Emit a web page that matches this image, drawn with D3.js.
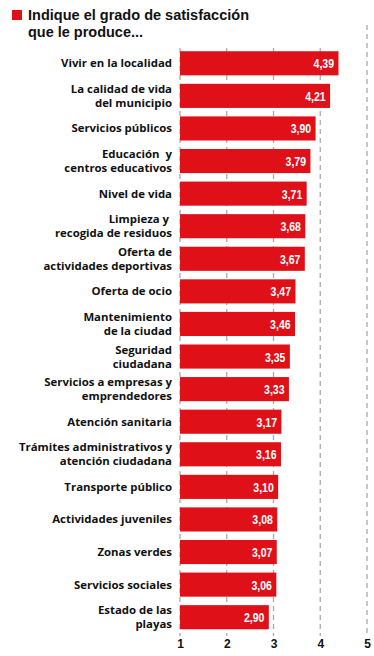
<!DOCTYPE html>
<html><head><meta charset="utf-8">
<script src="https://cdn.jsdelivr.net/npm/d3@7"></script>
<style>
body{margin:0;background:#fff;}
</style></head>
<body><svg id="c" width="374" height="656"></svg>
<script>
const categories = [
  ["Vivir en la localidad"],
  ["La calidad de vida","del municipio"],
  ["Servicios públicos"],
  ["Educación  y","centros educativos"],
  ["Nivel de vida"],
  ["Limpieza y ","recogida de residuos"],
  ["Oferta de","actividades deportivas"],
  ["Oferta de ocio"],
  ["Mantenimiento","de la ciudad"],
  ["Seguridad","ciudadana"],
  ["Servicios a empresas y","emprendedores"],
  ["Atención sanitaria"],
  ["Trámites administrativos y","atención ciudadana"],
  ["Transporte público"],
  ["Actividades juveniles"],
  ["Zonas verdes"],
  ["Servicios sociales"],
  ["Estado de las","playas"]
];
const values = [4.39,4.21,3.90,3.79,3.71,3.68,3.67,3.47,3.46,3.35,3.33,3.17,3.16,3.10,3.08,3.07,3.06,2.90];
const tickValues = [1,2,3,4,5];
const title = ["Indique el grado de satisfacción","que le produce..."];
const titleWidths = [221,115];

const svg = d3.select("#c");
const x = d3.scaleLinear().domain([1,5]).range([180,367]);
const y = d3.scaleBand().domain(d3.range(values.length)).range([47,633.5]).paddingInner(0.26).paddingOuter(0.13);

// title
svg.append("rect").attr("x",12).attr("y",10).attr("width",10).attr("height",10).attr("fill","#e01019");
svg.append("g").selectAll("text").data(title).join("text")
  .attr("x",28).attr("y",(d,i)=>19.5+i*17)
  .attr("font-family","Liberation Sans, Arial, sans-serif")
  .attr("font-weight","bold").attr("font-size",14.2).attr("fill","#111")
  .attr("textLength",(d,i)=>titleWidths[i]).attr("lengthAdjust","spacingAndGlyphs")
  .text(d=>d);

// grid
svg.append("g").selectAll("line").data(tickValues).join("line")
  .attr("x1",d=>x(d)).attr("x2",d=>x(d))
  .attr("y1",d=>d===5?25:48).attr("y2",636)
  .attr("stroke","#aaa").attr("stroke-width",1.3).attr("stroke-dasharray","5,4");

// bars
svg.append("g").selectAll("rect").data(values).join("rect")
  .attr("x",x(1)).attr("y",(d,i)=>y(i)).attr("width",d=>x(d)-x(1)).attr("height",y.bandwidth())
  .attr("fill","#e01019");

// value labels
svg.append("g").selectAll("text").data(values).join("text")
  .attr("transform",(d,i)=>`translate(${x(d)-4.4},${y(i)+y.bandwidth()/2+5}) scale(0.78,1)`)
  .attr("text-anchor","end").attr("fill","#fff")
  .attr("font-family","Liberation Sans, Arial, sans-serif").attr("font-weight","bold").attr("font-size",13.5)
  .text(d=>d3.format(".2f")(d).replace(".",","));

// category labels
const lab = svg.append("g").selectAll("text").data(categories).join("text")
  .attr("text-anchor","end").attr("font-family","Open Sans, sans-serif").attr("font-weight","bold")
  .attr("font-size",11.4).attr("fill","#111")
  .attr("transform",(d,i)=>`translate(172,${y(i)+y.bandwidth()/2})`);
lab.selectAll("tspan").data(d=>d.map((t,k)=>({t,k,n:d.length}))).join("tspan")
  .attr("x",0).attr("y",d=>(d.k-(d.n-1)/2)*14+4).text(d=>d.t).style("white-space","pre");

// axis
const ax = svg.append("g").attr("transform","translate(0,636)")
  .call(d3.axisBottom(x).tickValues(tickValues).tickSize(0).tickPadding(3).tickFormat(d3.format("d")));
ax.select(".domain").remove();
ax.selectAll("text").attr("font-family","Liberation Sans, Arial, sans-serif").attr("font-weight","bold").attr("font-size",12).attr("fill","#111");
</script></body></html>
